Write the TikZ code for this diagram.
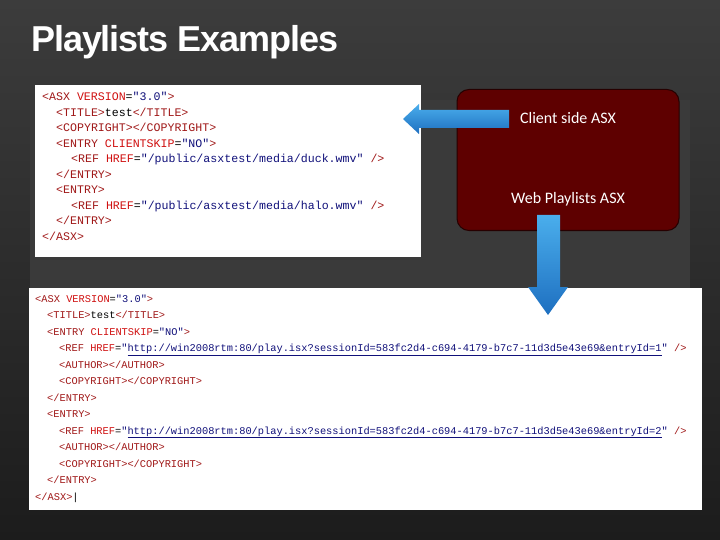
\documentclass[tikz,border=0pt]{standalone}
\usepackage{fontspec}
\setmainfont{Liberation Sans}
\newfontfamily\codefont{Liberation Mono}
\newfontfamily\boxfont{Carlito}
\definecolor{bgtop}{HTML}{3C3C3C}
\definecolor{bgbot}{HTML}{1C1C1C}
\definecolor{panel}{HTML}{3A3A3A}
\definecolor{boxred}{HTML}{5E0000}
\definecolor{tagc}{HTML}{A01818}
\definecolor{attc}{HTML}{D01010}
\definecolor{valc}{HTML}{10107A}
\definecolor{arrA}{HTML}{4AAEEC}
\definecolor{arrB}{HTML}{1E6FC0}
\newcommand\tg[1]{\textcolor{tagc}{#1}}
\newcommand\at[1]{\textcolor{attc}{#1}}
\newcommand\vl[1]{\textcolor{valc}{#1}}
\begin{document}
\begin{tikzpicture}[x=1pt,y=-1pt,
  topc/.style={anchor=base west,inner sep=0pt,font=\codefont\fontsize{11.6}{12}\selectfont},
  botc/.style={anchor=base west,inner sep=0pt,font=\codefont\fontsize{10.35}{11}\selectfont},
  shot/.style={fill=white,draw=none},
  arr/.style={top color=arrA,bottom color=arrB,draw=none}]
\useasboundingbox (0,0) rectangle (720,540);
\shade[top color=bgtop,bottom color=bgbot] (0,0) rectangle (720,540);
\fill[panel] (30,100) rectangle (690,290);
\node[anchor=base west,inner sep=0pt,text=white,font=\bfseries\fontsize{36}{38}\selectfont] (title) at (31,52) {\addfontfeature{LetterSpace=-3}Playlists Examples};
\fill[shot] (35,85) rectangle (421,257);
\fill[shot] (29,288) rectangle (702,510);
\node[draw=black!60!boxred,line width=1pt,fill=boxred,rounded corners=12pt,minimum width=222pt,minimum height=141pt] (box) at (568,160) {};
\node[text=white,font=\boxfont\fontsize{16}{18}\selectfont,inner sep=0pt] (cs) at (568,118) {Client side ASX};
\node[text=white,font=\boxfont\fontsize{16}{18}\selectfont,inner sep=0pt] (wp) at (568,199) {Web Playlists ASX};
% top code
\node[topc] (t1) at (42,101) {\tg{<ASX} \at{VERSION}=\vl{"3.0"}\tg{>}};
\node[topc] (t2) at (56,116.5) {\tg{<TITLE>}test\tg{</TITLE>}};
\node[topc] (t3) at (56,132) {\tg{<COPYRIGHT></COPYRIGHT>}};
\node[topc] (t4) at (56,147.5) {\tg{<ENTRY} \at{CLIENTSKIP}=\vl{"NO"}\tg{>}};
\node[topc] (t5) at (71,163) {\tg{<REF} \at{HREF}=\vl{"/public/asxtest/media/duck.wmv"} \tg{/>}};
\node[topc] (t6) at (56,178.5) {\tg{</ENTRY>}};
\node[topc] (t7) at (56,194) {\tg{<ENTRY>}};
\node[topc] (t8) at (71,209.5) {\tg{<REF} \at{HREF}=\vl{"/public/asxtest/media/halo.wmv"} \tg{/>}};
\node[topc] (t9) at (56,225) {\tg{</ENTRY>}};
\node[topc] (t10) at (42,240.5) {\tg{</ASX>}};
% bottom code
\node[botc] (b1) at (35,302) {\tg{<ASX} \at{VERSION}=\vl{"3.0"}\tg{>}};
\node[botc] (b2) at (47,318.5) {\tg{<TITLE>}test\tg{</TITLE>}};
\node[botc] (b3) at (47,335) {\tg{<ENTRY} \at{CLIENTSKIP}=\vl{"NO"}\tg{>}};
\node[botc] (b4) at (59,351.5) {\tg{<REF} \at{HREF}=\vl{"\underline{http://win2008rtm:80/play.isx?sessionId=583fc2d4-c694-4179-b7c7-11d3d5e43e69\&entryId=1}"} \tg{/>}};
\node[botc] (b5) at (59,368) {\tg{<AUTHOR></AUTHOR>}};
\node[botc] (b6) at (59,384.5) {\tg{<COPYRIGHT></COPYRIGHT>}};
\node[botc] (b7) at (47,401) {\tg{</ENTRY>}};
\node[botc] (b8) at (47,417.5) {\tg{<ENTRY>}};
\node[botc] (b9) at (59,434) {\tg{<REF} \at{HREF}=\vl{"\underline{http://win2008rtm:80/play.isx?sessionId=583fc2d4-c694-4179-b7c7-11d3d5e43e69\&entryId=2}"} \tg{/>}};
\node[botc] (b10) at (59,450.5) {\tg{<AUTHOR></AUTHOR>}};
\node[botc] (b11) at (59,467) {\tg{<COPYRIGHT></COPYRIGHT>}};
\node[botc] (b12) at (47,483.5) {\tg{</ENTRY>}};
\node[botc] (b13) at (35,500) {\tg{</ASX>}\textcolor{black}{|}};
% arrows
\shade[arr] (403,119) -- (419,104) -- (419,110) -- (509,110) -- (509,128) -- (419,128) -- (419,134) -- cycle;
\shade[arr] (537,215) -- (560,215) -- (560,287) -- (568,287) -- (548,315) -- (528,287) -- (537,287) -- cycle;
\end{tikzpicture}
\end{document}
